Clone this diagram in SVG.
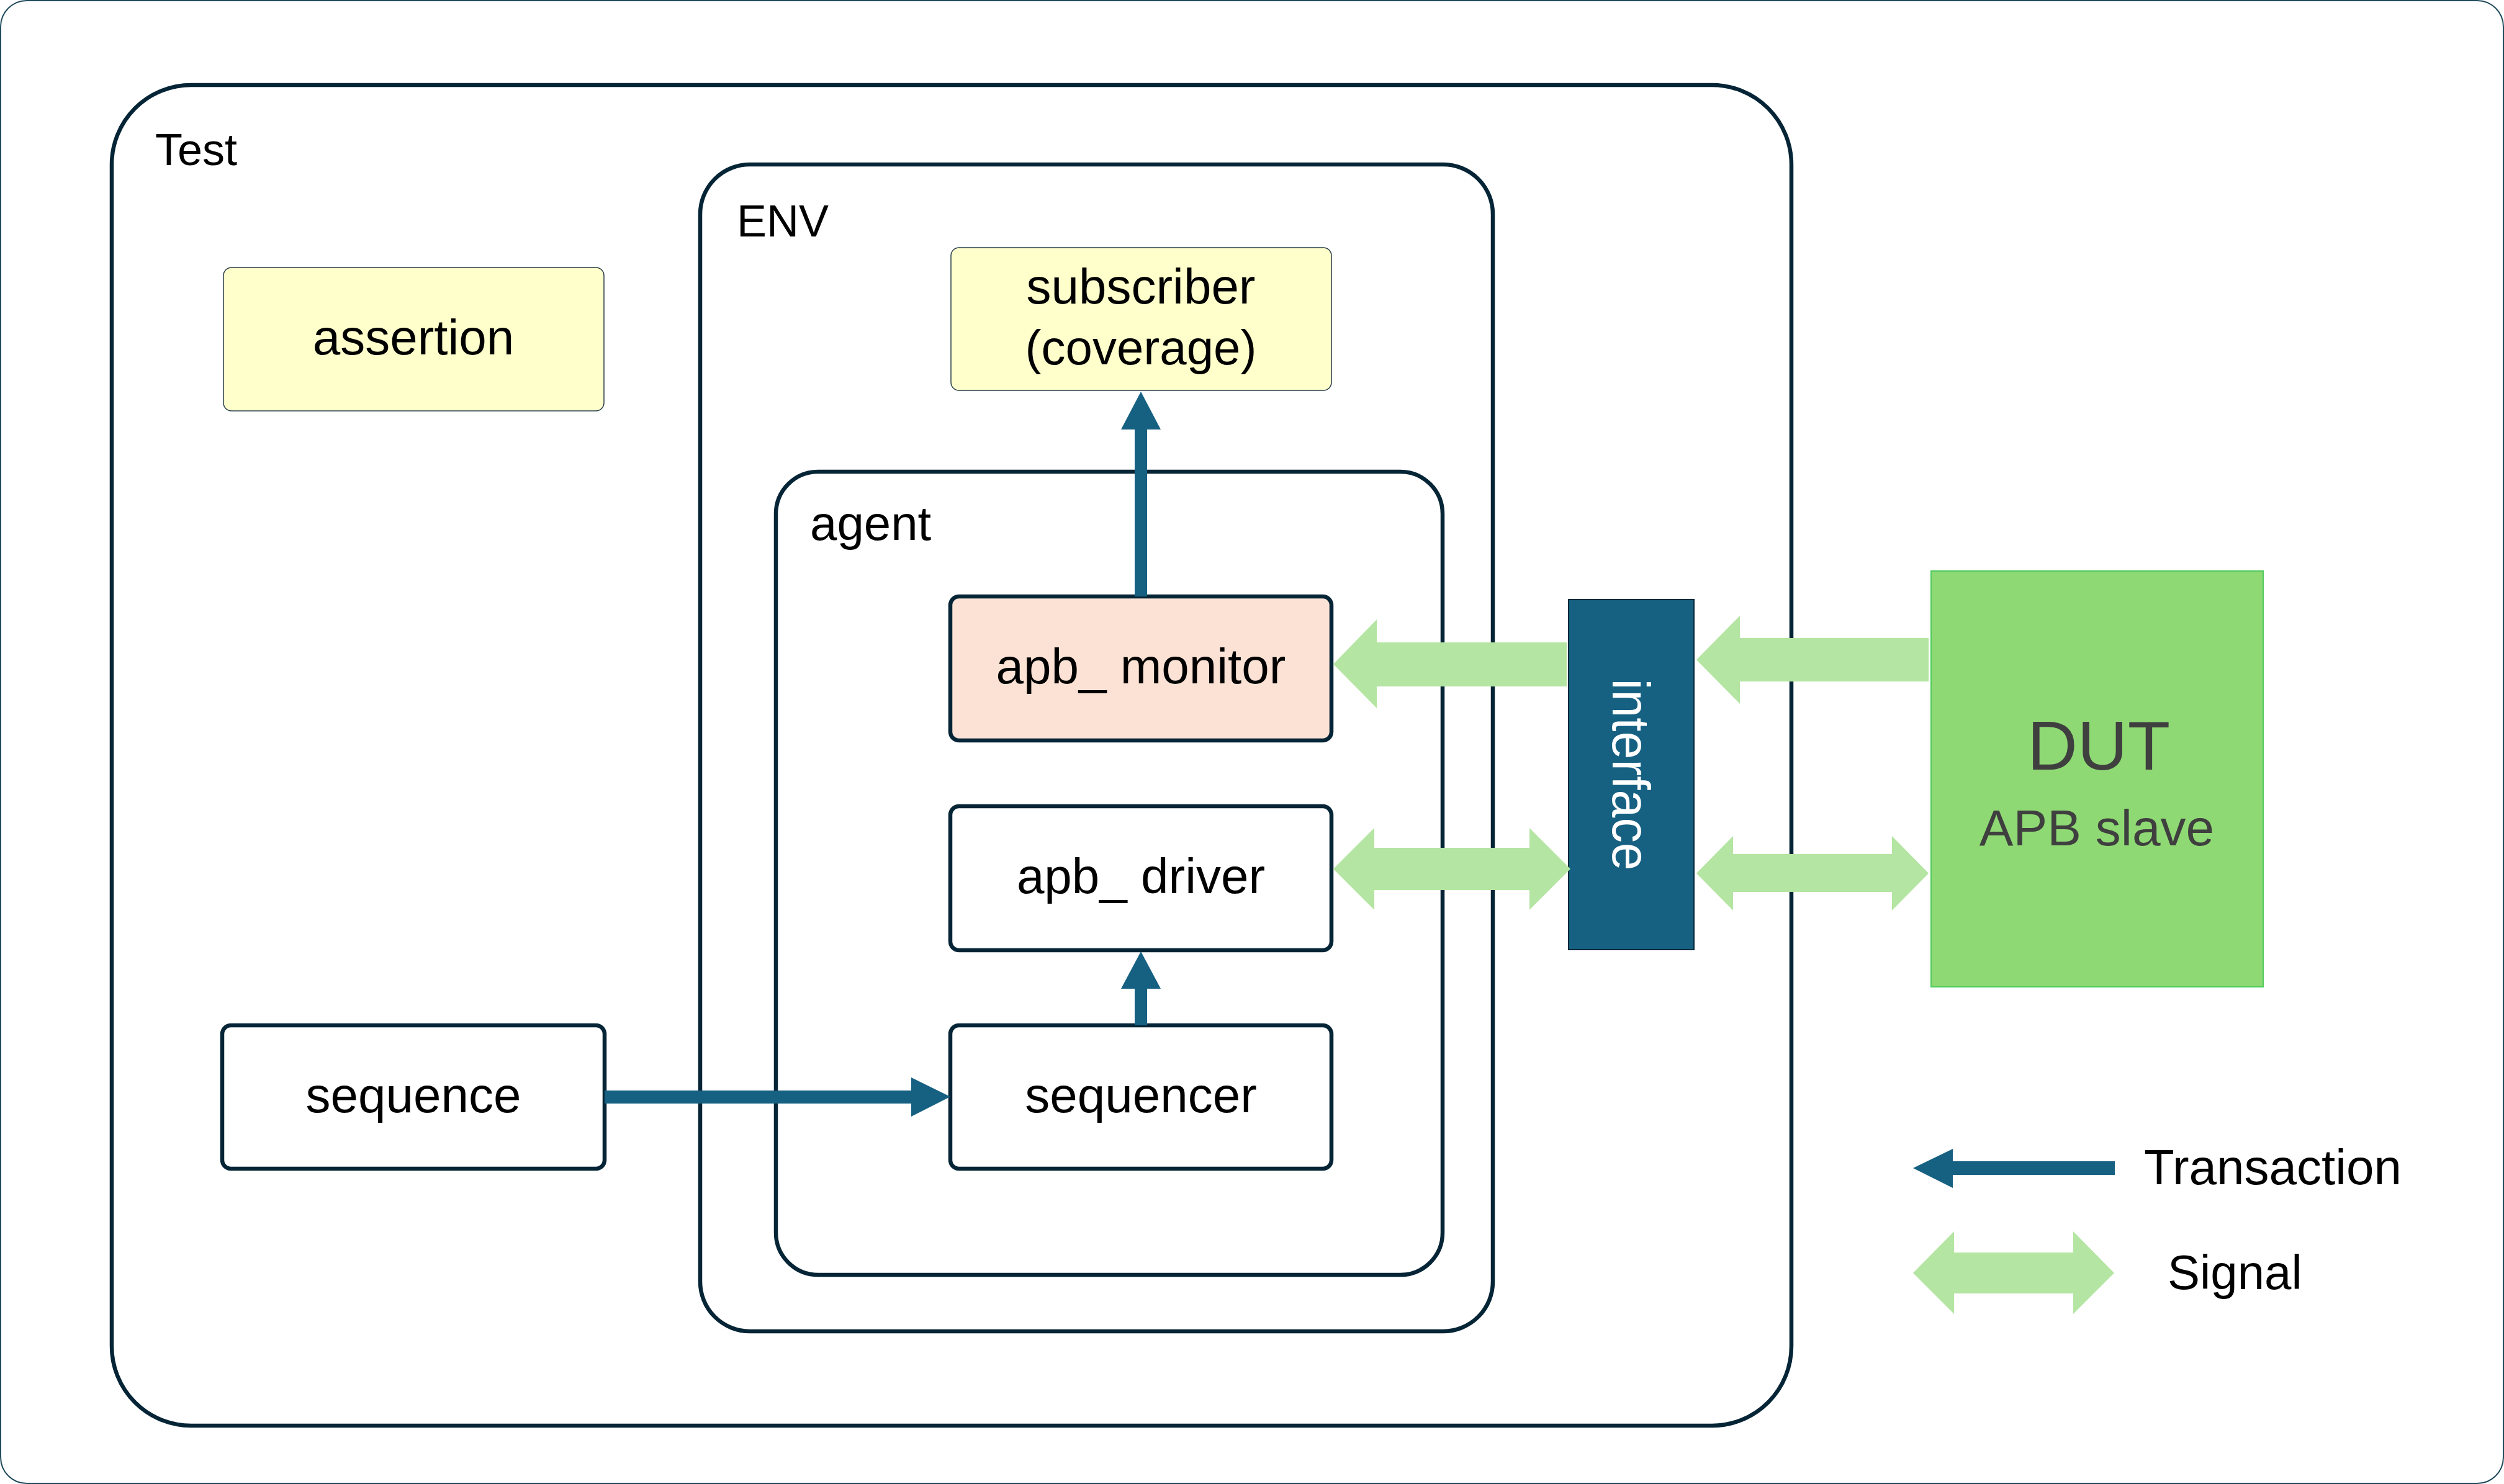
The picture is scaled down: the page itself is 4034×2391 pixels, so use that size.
<svg xmlns="http://www.w3.org/2000/svg" width="4034" height="2391" viewBox="0 0 4034 2391">
  <style>
    .frame { fill: #ffffff; stroke: #1f4a5a; stroke-width: 2; }
    .container { fill: none; stroke: #052536; stroke-width: 6.5; }
    .box { fill: #ffffff; stroke: #052536; stroke-width: 6.5; }
    .note { fill: #ffffcc; stroke: #2a3f4a; stroke-width: 1.5; }
    .monitor { fill: #fbe2d5; }
    .label { font-family: "Liberation Sans", Arial, sans-serif; fill: #000000; }
    .center { text-anchor: middle; }
    .txn { fill: #166082; }
    .sig { fill: #b4e5a2; }
  </style>

  <!-- page border -->
  <rect class="frame" x="1" y="1" width="4032" height="2389" rx="42" ry="42"/>

  <!-- containers -->
  <g id="test">
    <rect class="container" x="180" y="137" width="2706" height="2160" rx="128" ry="128"/>
    <text class="label" x="250" y="266" font-size="72">Test</text>
  </g>
  <g id="env">
    <rect class="container" x="1128" y="265" width="1277" height="1880" rx="80" ry="80"/>
    <text class="label" x="1187" y="381" font-size="72">ENV</text>
  </g>
  <g id="agent">
    <rect class="container" x="1250" y="760" width="1074" height="1294" rx="68" ry="68"/>
    <text class="label" x="1305" y="870" font-size="78">agent</text>
  </g>

  <!-- nodes -->
  <g id="assertion">
    <rect class="note" x="360" y="431" width="613" height="231" rx="13" ry="13"/>
    <text class="label center" x="666" y="571" font-size="80">assertion</text>
  </g>
  <g id="subscriber">
    <rect class="note" x="1532" y="399" width="613" height="230" rx="13" ry="13"/>
    <text class="label center" x="1838" y="489" font-size="80">subscriber</text>
    <text class="label center" x="1838" y="587" font-size="78">(coverage)</text>
  </g>
  <g id="apb_monitor">
    <rect class="box monitor" x="1531" y="961" width="614" height="232" rx="14" ry="14"/>
    <text class="label center" x="1838" y="1101" font-size="80">apb_ monitor</text>
  </g>
  <g id="apb_driver">
    <rect class="box" x="1531" y="1299" width="614" height="232" rx="14" ry="14"/>
    <text class="label center" x="1838" y="1439" font-size="80">apb_ driver</text>
  </g>
  <g id="sequencer">
    <rect class="box" x="1531" y="1652" width="614" height="231" rx="14" ry="14"/>
    <text class="label center" x="1838" y="1792" font-size="80">sequencer</text>
  </g>
  <g id="sequence">
    <rect class="box" x="358" y="1652" width="616" height="231" rx="14" ry="14"/>
    <text class="label center" x="666" y="1792" font-size="80">sequence</text>
  </g>
  <g id="interface">
    <rect x="2527" y="966" width="202" height="564" fill="#166082" stroke="#0a2a3a" stroke-width="2"/>
    <text class="label center" transform="translate(2598,1248) rotate(90)" font-size="86" fill="#ffffff" style="fill:#ffffff" textLength="309" lengthAdjust="spacingAndGlyphs">interface</text>
  </g>
  <g id="dut">
    <rect x="3111" y="920" width="535" height="670" fill="#8fd974" stroke="#4fcb5c" stroke-width="2"/>
    <text class="label center" x="3381" y="1240" font-size="112" style="fill:#3f3f3f">DUT</text>
    <text class="label center" x="3378" y="1362" font-size="82" style="fill:#3f3f3f">APB slave</text>
  </g>

  <!-- connectors -->
  <g id="connectors">
    <!-- transaction arrows -->
    <path class="txn" d="M1838,631 L1870,692 L1848,692 L1848,961 L1828,961 L1828,692 L1806,692 Z"/>
    <path class="txn" d="M1838,1533 L1870,1593 L1848,1593 L1848,1652 L1828,1652 L1828,1593 L1806,1593 Z"/>
    <path class="txn" d="M1531,1767 L1468,1736 L1468,1757 L974,1757 L974,1778 L1468,1778 L1468,1799 Z"/>
    <!-- signal arrows -->
    <path class="sig" d="M2148,1070 L2218,998 L2218,1035 L2524,1035 L2524,1106 L2218,1106 L2218,1141 Z"/>
    <path class="sig" d="M2733,1063 L2803,992 L2803,1028 L3107,1028 L3107,1098 L2803,1098 L2803,1134 Z"/>
    <path class="sig" d="M2148,1400 L2214,1334 L2214,1366 L2464,1366 L2464,1334 L2530,1400 L2464,1466 L2464,1434 L2214,1434 L2214,1466 Z"/>
    <path class="sig" d="M2733,1407 L2792,1347 L2792,1376 L3048,1376 L3048,1347 L3107,1407 L3048,1467 L3048,1437 L2792,1437 L2792,1467 Z"/>
  </g>

  <!-- legend -->
  <g id="legend">
    <path class="txn" d="M3082,1882 L3146,1851 L3146,1871 L3407,1871 L3407,1893 L3146,1893 L3146,1914 Z"/>
    <text class="label" x="3454" y="1908" font-size="80">Transaction</text>
    <path class="sig" d="M3082,2051 L3148,1984 L3148,2018 L3340,2018 L3340,1984 L3406,2051 L3340,2117 L3340,2084 L3148,2084 L3148,2117 Z"/>
    <text class="label" x="3492" y="2077" font-size="78">Signal</text>
  </g>
</svg>
